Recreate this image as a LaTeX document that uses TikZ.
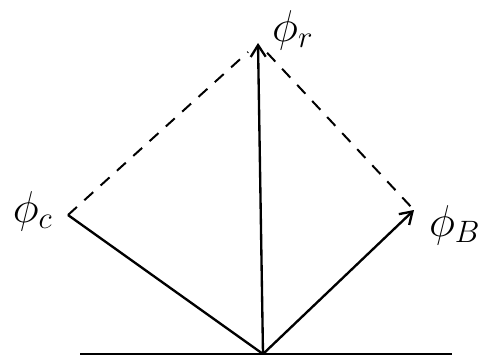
\documentclass[tikz,border=0pt]{standalone}
\usepackage{amsmath,amssymb}
\usetikzlibrary{arrows.meta}

\newcommand{\biglabel}[1]{\scalebox{2.2}{$#1$}}

\begin{document}
\begin{tikzpicture}[x=0.03cm,y=-0.03cm]
\tikzset{
  phasor/.style={-{Straight Barb[length=3.5mm,width=4.5mm]},line width=2pt},
  plain/.style={line width=2pt},
  guide/.style={line width=1.7pt,dash pattern=on 3.6mm off 3mm},
  philabel/.style={font=\LARGE,inner sep=0pt}
}
\useasboundingbox (0,0) rectangle (489,361);
\coordinate (O) at (263,354);
\coordinate (baseL) at (80,354);
\coordinate (baseR) at (452,354);
\coordinate (tipR) at (258,43);
\coordinate (tipC) at (68,215);
\coordinate (tipB) at (414,210);
\node[philabel] (lblR) at (293,30) {\biglabel{\phi_r}};
\node[philabel] (lblC) at (33,211) {\biglabel{\phi_c}};
\node[philabel] (lblB) at (455,225) {\biglabel{\phi_B}};
\draw[plain] (baseL) -- (baseR);
\draw[phasor] (O) -- (tipR);
\draw[plain] (O) -- (tipC);
\draw[phasor] (O) -- (tipB);
\draw[guide,shorten >=4mm] (tipC) -- (tipR);
\draw[guide,shorten <=4mm] (tipR) -- (tipB);
\end{tikzpicture}
\end{document}
